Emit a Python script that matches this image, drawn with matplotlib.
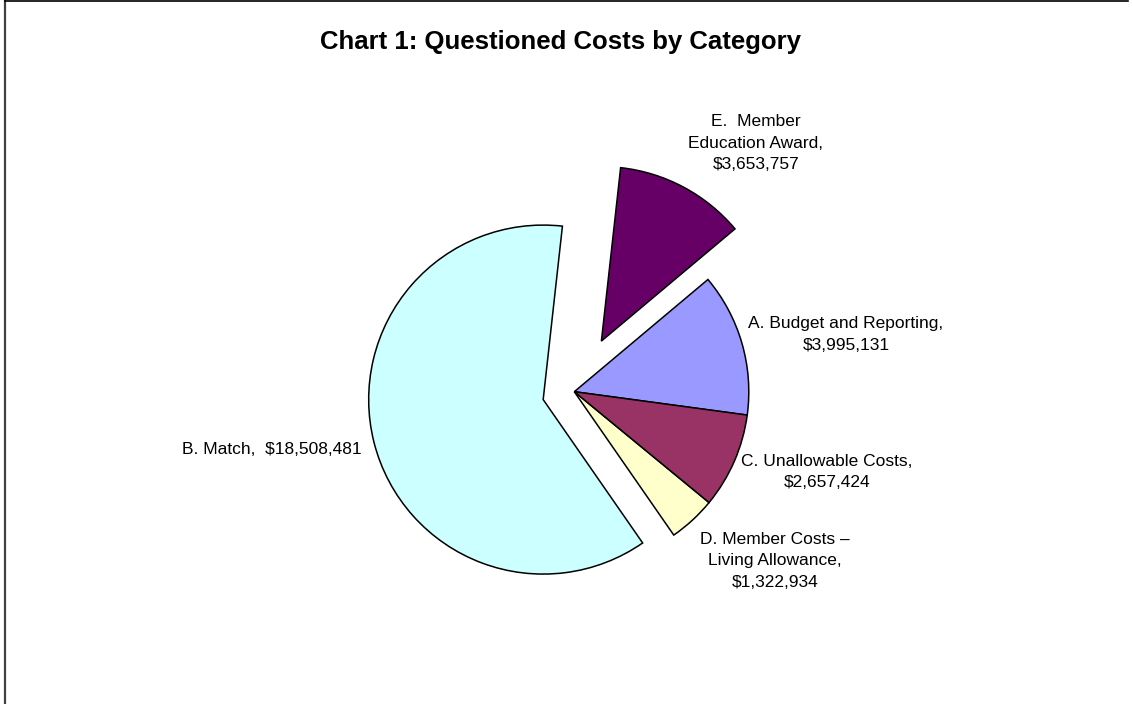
import matplotlib
matplotlib.use("Agg")
import matplotlib.pyplot as plt
from matplotlib.lines import Line2D

# dados do gráfico (ordem anti-horária a partir da fatia A)
categorias = ["A. Budget and Reporting", "E.  Member\nEducation Award", "B. Match",
              "D. Member Costs \u2013\nLiving Allowance", "C. Unallowable Costs"]
valores = [3995131, 3653757, 18508481, 1322934, 2657424]
separadores = [",\n", ",\n", ",  ", ",\n", ",\n"]
titulo = "Chart 1: Questioned Costs by Category"

# estilo
cores = ["#9999FF", "#660066", "#CCFFFF", "#FFFFCC", "#993366"]
explode = [0, 57.4, 32.1, 0, 0]
pos_rotulos = [(846, 369.5), (756, 561), (272, 254), (775, 143), (827, 232)]

plt.rcParams["font.family"] = ["Liberation Sans", "DejaVu Sans"]

fig = plt.figure(figsize=(11.33, 7.04), dpi=100)
ax = fig.add_axes([0, 0, 1, 1])

ax.pie(valores, colors=cores, explode=explode, startangle=-7.7,
       center=(574.3, 312.3), radius=174.5, frame=True,
       wedgeprops={"edgecolor": "black", "linewidth": 1.1})
ax.set_xlim(0, 1133)
ax.set_ylim(0, 704)
ax.set_aspect("equal")
ax.axis("off")

for cat, val, sep, (x, y) in zip(categorias, valores, separadores, pos_rotulos):
    ax.text(x, y, f"{cat}{sep}${val:,}", ha="center", va="center",
            fontsize=12.5, multialignment="center", linespacing=1.55)

ax.text(561, 704 - 49, titulo, ha="center", va="baseline", fontsize=18.5, fontweight="bold")

# moldura do gráfico
fig.add_artist(Line2D([5.5 / 1133, 5.5 / 1133], [0, 1], color="#404040", linewidth=1.6))
fig.add_artist(Line2D([5 / 1133, 1128 / 1133], [1 - 1 / 704, 1 - 1 / 704], color="black", linewidth=1.2))

fig.savefig("out.png", dpi=100)
